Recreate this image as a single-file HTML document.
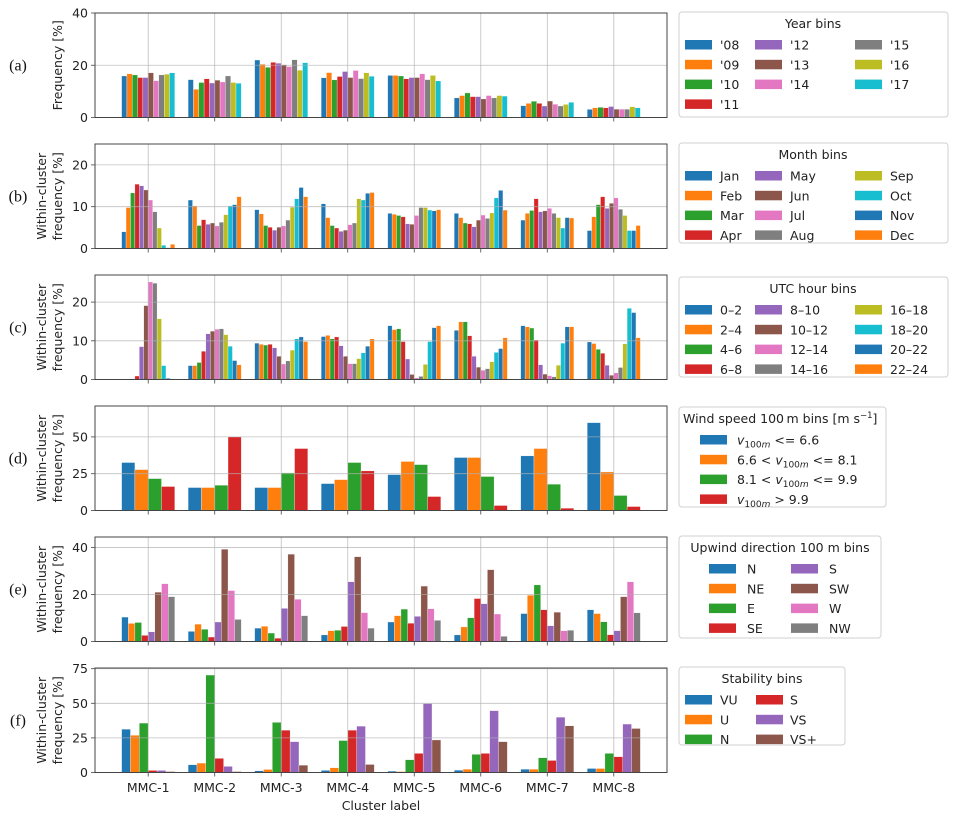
<!DOCTYPE html>
<html><head><meta charset="utf-8">
<style>
body{margin:0;background:#fff;}
svg{display:block;font-family:"DejaVu Sans","Liberation Sans",sans-serif;}
</style></head>
<body>
<svg id="chart" width="964" height="820" viewBox="0 0 964 820" xmlns="http://www.w3.org/2000/svg"></svg>
<script>
const categories = ["MMC-1","MMC-2","MMC-3","MMC-4","MMC-5","MMC-6","MMC-7","MMC-8"];

const yearLabels = ["'08","'09","'10","'11","'12","'13","'14","'15","'16","'17"];
const yearValues = [
 [15.9,16.7,16.3,15.3,15.3,17.1,14.1,16.3,16.6,17.1],
 [14.5,10.8,13.4,14.8,13.2,14.3,13.6,15.9,13.4,13.1],
 [22.0,20.4,19.2,21.1,20.8,20.2,19.5,22.1,18.1,21.0],
 [15.2,17.2,14.4,15.7,17.6,15.3,18.0,14.9,17.1,15.8],
 [16.1,16.1,15.9,14.8,15.3,15.3,16.7,14.5,16.1,14.0],
 [7.5,8.4,9.4,8.0,8.0,7.1,8.4,7.5,8.4,8.2],
 [4.5,5.4,6.2,5.4,4.4,6.3,5.1,4.4,5.0,5.8],
 [3.1,3.7,3.9,3.7,4.2,3.2,3.2,3.2,4.1,3.7]
];
const monthLabels = ["Jan","Feb","Mar","Apr","May","Jun","Jul","Aug","Sep","Oct","Nov","Dec"];
const monthValues = [
 [4.0,9.8,13.3,15.4,15.0,14.0,11.6,8.8,4.9,0.8,0.2,1.0],
 [11.6,10.2,5.5,6.9,5.8,6.1,5.4,6.3,8.1,10.2,10.5,12.4],
 [9.3,8.3,5.5,5.1,4.4,5.1,5.4,6.8,9.9,11.9,14.6,12.4],
 [10.7,7.4,5.5,4.9,4.1,4.4,5.7,6.1,11.9,11.6,13.2,13.4],
 [8.4,8.2,7.9,7.6,5.9,5.8,7.9,9.8,9.8,9.2,9.0,9.3],
 [8.4,7.4,6.1,5.9,5.2,6.8,8.0,7.2,8.5,12.1,13.9,9.2],
 [6.8,8.4,9.1,11.9,8.8,9.0,9.6,8.4,7.4,4.9,7.4,7.3],
 [4.3,7.6,10.5,12.4,9.6,10.8,12.1,9.4,7.9,4.3,4.3,5.5]
];
const hourLabels = ["0–2","2–4","4–6","6–8","8–10","10–12","12–14","14–16","16–18","18–20","20–22","22–24"];
const hourValues = [
 [0.1,0.1,0.1,0.9,8.5,19.1,25.2,24.9,15.7,3.6,0.3,0.1],
 [3.6,3.6,4.4,7.3,11.8,12.5,13.0,13.1,11.6,8.6,4.9,3.8],
 [9.4,9.1,8.9,9.1,8.2,6.0,4.0,4.8,7.6,10.5,11.0,9.8],
 [11.1,11.4,10.5,11.0,8.7,6.0,4.1,4.1,5.4,6.9,8.6,10.5],
 [13.9,12.9,13.1,9.8,5.3,1.3,0.4,0.8,3.9,9.8,13.4,13.9],
 [12.7,14.9,14.9,11.3,6.0,3.2,2.4,2.8,4.6,7.0,8.0,10.8],
 [13.9,13.6,13.3,10.2,3.8,1.4,1.0,0.7,3.7,9.4,13.6,13.6],
 [9.7,9.3,7.8,6.8,3.7,1.1,1.7,3.1,9.2,18.4,17.3,10.8]
];
const windValues = [
 [32.6,27.8,21.7,16.3],
 [15.6,15.6,17.2,50.0],
 [15.6,15.6,25.6,42.1],
 [18.3,21.0,32.6,26.9],
 [24.4,33.3,31.2,9.5],
 [36.0,36.0,23.1,3.4],
 [37.1,42.1,17.9,1.6],
 [59.7,26.2,10.2,2.7]
];
const dirLabels = ["N","NE","E","SE","S","SW","W","NW"];
const dirValues = [
 [10.4,7.7,8.1,2.6,4.1,21.0,24.6,19.1],
 [4.3,7.4,5.2,1.9,8.3,39.3,21.7,9.4],
 [5.7,6.5,3.6,1.4,14.1,37.2,18.0,11.0],
 [2.8,4.6,4.8,6.4,25.4,36.1,12.3,5.7],
 [8.3,11.0,13.8,7.8,10.7,23.6,13.9,9.0],
 [2.8,6.2,10.1,18.3,16.1,30.6,11.7,2.2],
 [11.9,19.7,24.1,13.5,6.7,12.5,4.6,4.8],
 [13.5,11.9,8.4,2.9,4.6,19.1,25.4,12.2]
];
const stabLabels = ["VU","U","N","S","VS","VS+"];
const stabValues = [
 [31.3,26.9,35.7,1.5,1.5,0.7],
 [5.6,6.8,70.4,10.2,4.4,0.7],
 [1.2,2.2,36.2,30.6,22.3,5.3],
 [1.5,3.4,23.1,30.6,33.5,5.8],
 [1.0,0.7,9.2,13.8,49.8,23.5],
 [1.7,2.4,13.1,13.8,44.7,22.3],
 [2.4,2.4,10.7,8.7,40.0,33.7],
 [2.9,2.9,13.8,11.4,35.0,31.8]
];
const yTicksA = [0,20,40];
const yTicksB = [0,10,20];
const yTicksC = [0,10,20];
const yTicksD = [0,25,50];
const yTicksE = [0,20,40];
const yTicksF = [0,25,50,75];

const colors = ["#1f77b4","#ff7f0e","#2ca02c","#d62728","#9467bd","#8c564b","#e377c2","#7f7f7f","#bcbd22","#17becf"];
const NS = "http://www.w3.org/2000/svg";
const svg = document.getElementById('chart');
function mk(tag, attrs, parent, text){
  const e = document.createElementNS(NS, tag);
  for (const k in attrs) e.setAttribute(k, attrs[k]);
  if (text !== undefined) e.textContent = text;
  (parent || svg).appendChild(e);
  return e;
}
const X0 = 95, X1 = 667, XMIN = -0.8, XMAX = 7.8, PH = 104.5;
function xScale(v){ return X0 + (v - XMIN) / (XMAX - XMIN) * (X1 - X0); }

const panels = [
 {key:"a", top:13, ymax:40, ticks:yTicksA, values:yearValues, ylab:["Frequency [%]"]},
 {key:"b", top:144, ymax:25, ticks:yTicksB, values:monthValues, ylab:["Within-cluster","frequency [%]"]},
 {key:"c", top:275, ymax:27, ticks:yTicksC, values:hourValues, ylab:["Within-cluster","frequency [%]"]},
 {key:"d", top:406, ymax:71, ticks:yTicksD, values:windValues, ylab:["Within-cluster","frequency [%]"]},
 {key:"e", top:537, ymax:44.5, ticks:yTicksE, values:dirValues, ylab:["Within-cluster","frequency [%]"]},
 {key:"f", top:668, ymax:75.5, ticks:yTicksF, values:stabValues, ylab:["Within-cluster","frequency [%]"]}
];

panels.forEach(p => {
  const g = mk('g', {});
  
  
  const bottom = p.top + PH;
  const yScale = v => bottom - v / p.ymax * PH;
  // bars
  const n = p.values[0].length;
  const bw = 0.8 / n;
  p.values.forEach((grp, ci) => {
    grp.forEach((v, si) => {
      const xl = xScale(ci - 0.4 + si * bw);
      const xr = xScale(ci - 0.4 + (si + 1) * bw);
      const r = mk('rect', {x:xl, y:yScale(v), width:xr - xl, height:bottom - yScale(v), fill:colors[si % 10], stroke:"#fff", "stroke-width":0.3}, g);
      
      
    });
  });
  // grid
  categories.forEach((c, ci) => {
    const l = mk('line', {x1:xScale(ci), x2:xScale(ci), y1:p.top, y2:bottom, stroke:"#b0b0b0", "stroke-width":0.8, "stroke-opacity":0.8}, g);
    
    
  });
  p.ticks.forEach(t => {
    const y = yScale(t);
    const l = mk('line', {x1:X0, x2:X1, y1:y, y2:y, stroke:"#b0b0b0", "stroke-width":0.8, "stroke-opacity":0.8}, g);
    
    
    mk('line', {x1:X0 - 4, x2:X0, y1:y, y2:y, stroke:"#444", "stroke-width":0.8}, g);
    const tl = mk('text', {x:X0 - 7, y:y + 4.5, "text-anchor":"end", "font-size":12.5, fill:"#222"}, g, String(t));
    
    
  });
  categories.forEach((c, ci) => {
    mk('line', {x1:xScale(ci), x2:xScale(ci), y1:bottom, y2:bottom + 4, stroke:"#444", "stroke-width":0.8}, g);
  });
  const frame = mk('rect', {x:X0, y:p.top, width:X1 - X0, height:PH, fill:"none", stroke:"#444", "stroke-width":1}, g);
  
  
  // y label
  const cy = p.top + PH / 2;
  if (p.ylab.length === 1) {
    const t = mk('text', {x:0, y:0, transform:`translate(62,${cy}) rotate(-90)`, "text-anchor":"middle", "font-size":12.5, fill:"#222"}, g, p.ylab[0]);
    
    
  } else {
    const t1 = mk('text', {x:0, y:0, transform:`translate(46,${cy}) rotate(-90)`, "text-anchor":"middle", "font-size":12.5, fill:"#222"}, g, p.ylab[0]);
    
    
    const t2 = mk('text', {x:0, y:0, transform:`translate(62,${cy}) rotate(-90)`, "text-anchor":"middle", "font-size":12.5, fill:"#222"}, g, p.ylab[1]);
    
    
  }
  const pl = mk('text', {x:18, y:cy + 5, "text-anchor":"middle", "font-size":16, "font-family":"Liberation Serif, serif", fill:"#111"}, g, "(" + p.key + ")");
  
  
});

// x tick labels
categories.forEach((c, ci) => {
  const t = mk('text', {x:xScale(ci), y:792, "text-anchor":"middle", "font-size":12.5, fill:"#222"}, svg, c);
  
  
});
const xt = mk('text', {x:381, y:810, "text-anchor":"middle", "font-size":12.5, fill:"#222"}, svg, "Cluster label");



// legends
function legend(name, box, title, titleX, titleAnchor, cols){
  const g = mk('g', {});
  
  
  mk('rect', {x:box[0], y:box[1], width:box[2], height:box[3], rx:3, fill:"#fff", stroke:"#d0d0d0", "stroke-width":1}, g);
  const tt = mk('text', {x:titleX, y:box[1] + 16, "text-anchor":titleAnchor, "font-size":12.5, fill:"#222"}, g);
  tt.innerHTML = title;
  
  
  cols.forEach(col => {
    col.items.forEach((it, ri) => {
      const y = box[1] + 28 + ri * 19.8;
      mk('rect', {x:col.px, y:y, width:27, height:9.5, fill:colors[it.c % 10]}, g);
      const lt = mk('text', {x:col.lx, y:y + 9.5, "font-size":12.5, fill:"#222"}, g);
      lt.innerHTML = it.l;
      
      
    });
  });
}
function items(labels, from, to){ const r=[]; for(let i=from;i<to;i++) r.push({l:labels[i], c:i}); return r; }

legend('legend-year', [679,12,269,105], 'Year bins', 813, 'middle', [
  {px:685, lx:720, items:items(yearLabels,0,4)},
  {px:755, lx:790, items:items(yearLabels,4,7)},
  {px:855, lx:890, items:items(yearLabels,7,10)}
]);
legend('legend-month', [679,143,269,100], 'Month bins', 813, 'middle', [
  {px:685, lx:720, items:items(monthLabels,0,4)},
  {px:755, lx:790, items:items(monthLabels,4,8)},
  {px:855, lx:890, items:items(monthLabels,8,12)}
]);
legend('legend-hour', [679,277,269,100], 'UTC hour bins', 813, 'middle', [
  {px:685, lx:720, items:items(hourLabels,0,4)},
  {px:755, lx:790, items:items(hourLabels,4,8)},
  {px:855, lx:890, items:items(hourLabels,8,12)}
]);
const vsub = '<tspan font-style="italic">v</tspan><tspan font-size="9" dy="3"><tspan font-style="normal">100</tspan><tspan font-style="italic">m</tspan></tspan><tspan dy="-3">';
legend('legend-wind', [679,407,207,100], 'Wind speed 100\u2009m bins [m s<tspan font-size="8.5" dy="-5">−1</tspan><tspan dy="5">]</tspan>', 683, 'start', [
  {px:700, lx:737, items:[
    {l: vsub + ' &lt;= 6.6</tspan>', c:0},
    {l: '6.6 &lt; ' + vsub + ' &lt;= 8.1</tspan>', c:1},
    {l: '8.1 &lt; ' + vsub + ' &lt;= 9.9</tspan>', c:2},
    {l: vsub + ' &gt; 9.9</tspan>', c:3}
  ]}
]);
legend('legend-direction', [679,536,202,102], 'Upwind direction 100 m bins', 780, 'middle', [
  {px:709, lx:747, items:items(dirLabels,0,4)},
  {px:791, lx:829, items:items(dirLabels,4,8)}
]);
legend('legend-stability', [679,667,166,78], 'Stability bins', 762, 'middle', [
  {px:685, lx:720, items:items(stabLabels,0,3)},
  {px:756, lx:790, items:items(stabLabels,3,6)}
]);
</script>
</body></html>
